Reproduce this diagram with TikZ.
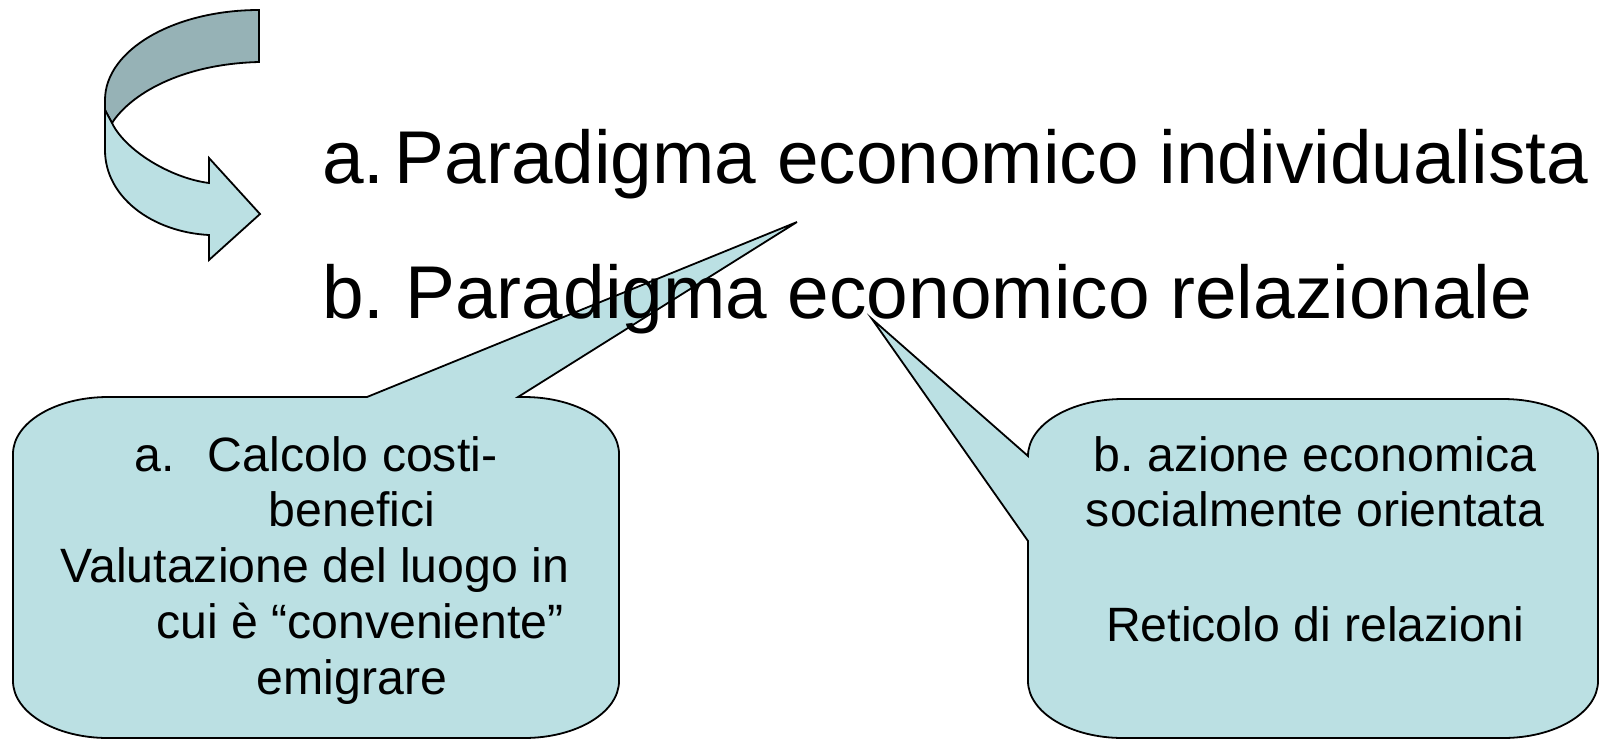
\documentclass[tikz,border=0pt]{standalone}
\usepackage{fontspec}
\setmainfont{Liberation Sans}
\usepackage{tikz}

\definecolor{calloutfill}{RGB}{187,224,227}
\definecolor{bandshade}{RGB}{150,178,182}

\begin{document}
\frenchspacing
\begin{tikzpicture}[x=0.5pt,y=-0.5pt]
      \useasboundingbox (0,0) rectangle (1600,741);

      % tips of the two callouts
      \coordinate (tipA) at (797,222);
      \coordinate (tipB) at (872,319);

      % curved arrow, dark part then light part
      \begin{scope}[draw=black,line width=0.9pt,line join=miter]
        \filldraw[fill=bandshade] (259,10) .. controls (174,10) and (105,50) .. (105,100)
          -- (105,110) -- (112,123) .. controls (130,95) and (180,64) .. (259,62) -- cycle;
        \filldraw[fill=calloutfill] (105,110) -- (105,150) .. controls (105,197) and (152,232) .. (209,235)
          -- (209,260) -- (260,214) -- (209,158) -- (209,183)
          .. controls (170,178) and (125,150) .. (112,123) -- cycle;
      \end{scope}

      % callouts
      \begin{scope}[draw=black,line width=0.9pt,fill=calloutfill]
        \filldraw (367,397) -- (tipA) -- (518,397) -- (524,397)
          arc[start angle=90,end angle=0,x radius=95,y radius=-57] -- (619,681)
          arc[start angle=0,end angle=-90,x radius=95,y radius=-57] -- (108,738)
          arc[start angle=270,end angle=180,x radius=95,y radius=-57] -- (13,454)
          arc[start angle=180,end angle=90,x radius=95,y radius=-57] -- cycle;
        \filldraw (1028,456) -- (tipB) -- (1028,541) -- (1028,681)
          arc[start angle=180,end angle=270,x radius=95,y radius=-57] -- (1503,738)
          arc[start angle=270,end angle=360,x radius=95,y radius=-57] -- (1598,456)
          arc[start angle=0,end angle=90,x radius=95,y radius=-57] -- (1123,399)
          arc[start angle=90,end angle=180,x radius=95,y radius=-57] -- cycle;
      \end{scope}

      \begin{scope}[every node/.style={inner sep=0pt,anchor=base west,font=\fontsize{37.4pt}{44pt}\selectfont}]
        \node (a) at (322,183) {a.\hspace{5pt}Paradigma economico individualista};
        \node (b) at (322,318) {b. Paradigma economico relazionale};
      \end{scope}

      \begin{scope}[every node/.style={inner sep=0pt,anchor=base,font=\fontsize{24.1pt}{28pt}\selectfont}]
        \node (a1) at (316,471) {a.\hspace{16.5pt}Calcolo costi-};
        \node (a2) at (352,526) {benefici};
        \node (a3) at (315,582) {Valutazione del luogo in};
        \node (a4) at (360,638) {cui è “conveniente”};
        \node (a5) at (352,694) {emigrare};

        \node (b1) at (1315,471) {b. azione economica};
        \node (b2) at (1315,526) {socialmente orientata};
        \node (b3) at (1315,641) {Reticolo di relazioni};
      \end{scope}

    \end{tikzpicture}
\end{document}
